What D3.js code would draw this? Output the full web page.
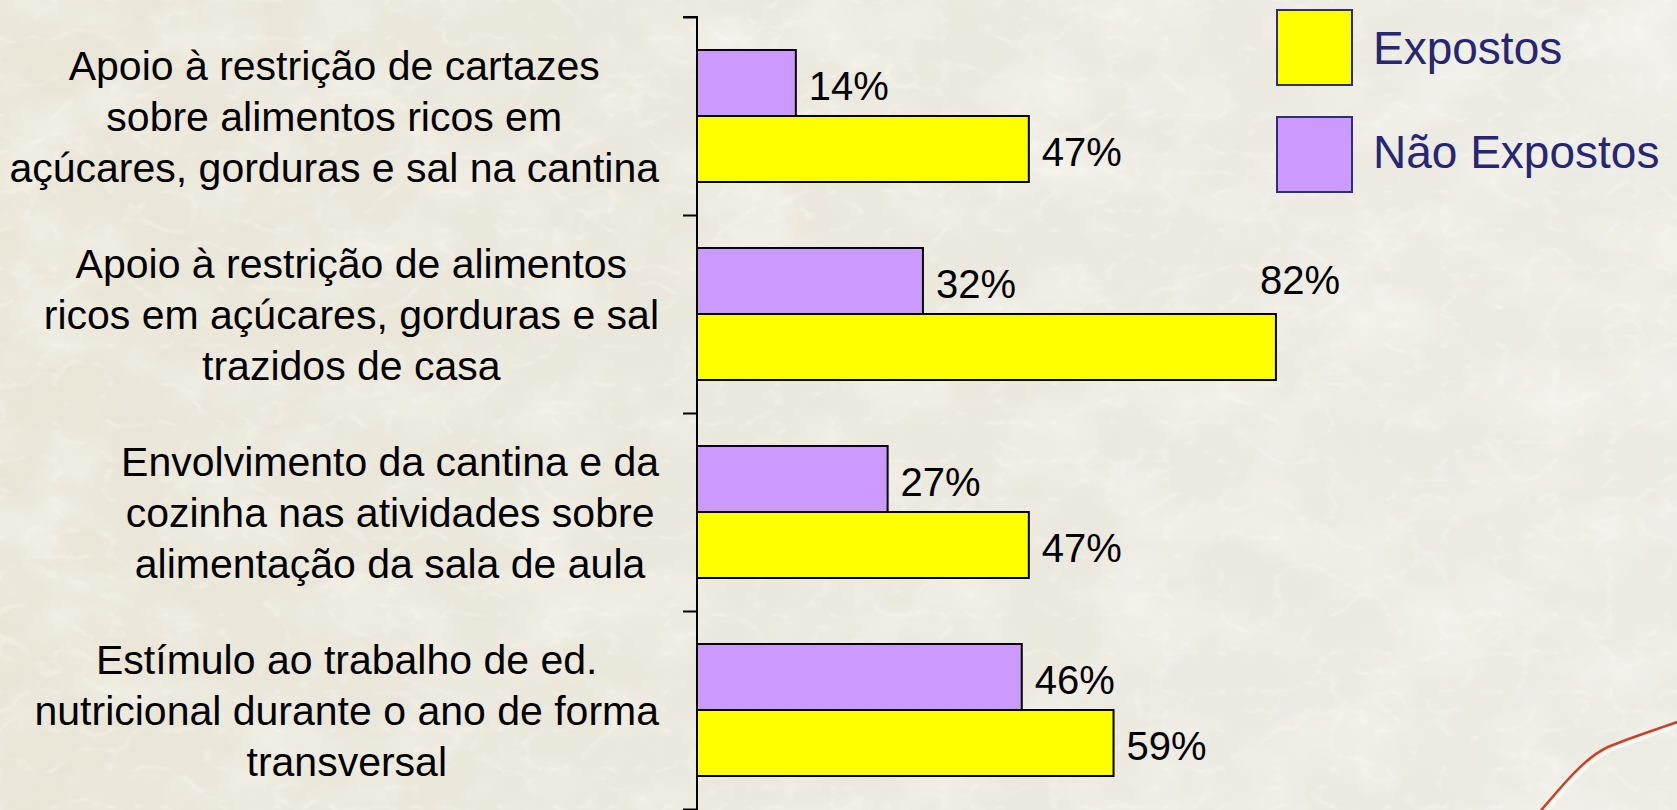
<!DOCTYPE html>
<html>
<head>
<meta charset="utf-8">
<script src="https://cdn.jsdelivr.net/npm/d3@7"></script>
<style>
  html, body { margin: 0; padding: 0; overflow: hidden; background: #e9e6dc; }
  svg { display: block; font-family: "Liberation Sans", Arial, sans-serif; }
</style>
</head>
<body>
<div id="chart"></div>
<script>
// DATA
const categories = [
  "Apoio à restrição de cartazes\nsobre alimentos ricos em\naçúcares, gorduras e sal na cantina",
  "Apoio à restrição de alimentos\nricos em açúcares, gorduras e sal\ntrazidos de casa",
  "Envolvimento da cantina e da\ncozinha nas atividades sobre\nalimentação da sala de aula",
  "Estímulo ao trabalho de ed.\nnutricional durante o ano de forma\ntransversal"
];
const seriesNames = ["Não Expostos", "Expostos"];
const naoExpostos = [14, 32, 27, 46];
const expostos = [47, 82, 47, 59];
const legendOrder = ["Expostos", "Não Expostos"];

const colors = { "Não Expostos": "#cc99ff", "Expostos": "#ffff00" };
const values = { "Não Expostos": naoExpostos, "Expostos": expostos };

const width = 1677;
const height = 810;
const margin = { top: 17, left: 697 };
const plotBottom = 809;
const labelLimit = 1300;

const svg = d3
  .select("#chart")
  .append("svg")
  .attr("width", width)
  .attr("height", height);

// -----------------------------------------------------------------------------
// BACKGROUND (paper texture)
// -----------------------------------------------------------------------------
const defs = svg.append("defs");

const grad = defs.append("linearGradient").attr("id", "paperTone");
grad.append("stop").attr("offset", "0%").attr("stop-color", "#e9e5d7");
grad.append("stop").attr("offset", "55%").attr("stop-color", "#ebe8de");
grad.append("stop").attr("offset", "100%").attr("stop-color", "#ecebe4");

const light = defs.append("filter").attr("id", "paperLight")
  .attr("x", 0).attr("y", 0).attr("width", "100%").attr("height", "100%");
light.append("feTurbulence")
  .attr("type", "fractalNoise")
  .attr("baseFrequency", "0.01 0.014")
  .attr("numOctaves", 4)
  .attr("seed", 7);
light.append("feColorMatrix")
  .attr("type", "matrix")
  .attr("values", "0 0 0 0 1  0 0 0 0 1  0 0 0 0 0.98  1.2 0 0 0 -0.5");

const veins = defs.append("filter").attr("id", "paperVeins")
  .attr("x", 0).attr("y", 0).attr("width", "100%").attr("height", "100%");
veins.append("feTurbulence")
  .attr("type", "turbulence")
  .attr("baseFrequency", "0.018 0.026")
  .attr("numOctaves", 3)
  .attr("seed", 11);
veins.append("feColorMatrix")
  .attr("type", "matrix")
  .attr("values", "0 0 0 0 1  0 0 0 0 1  0 0 0 0 0.97  -2.2 0 0 0 0.4");

const shade = defs.append("filter").attr("id", "paperShade")
  .attr("x", 0).attr("y", 0).attr("width", "100%").attr("height", "100%");
shade.append("feTurbulence")
  .attr("type", "fractalNoise")
  .attr("baseFrequency", "0.004 0.006")
  .attr("numOctaves", 2)
  .attr("seed", 3);
shade.append("feColorMatrix")
  .attr("type", "matrix")
  .attr("values", "0 0 0 0 0.82  0 0 0 0 0.78  0 0 0 0 0.68  0 0.7 0 0 -0.33");

svg.append("rect").attr("width", width).attr("height", height).attr("fill", "url(#paperTone)");
svg.append("rect").attr("width", width).attr("height", height).attr("filter", "url(#paperShade)");
svg.append("rect").attr("width", width).attr("height", height).attr("filter", "url(#paperLight)").attr("opacity", 0.7);
svg.append("rect").attr("width", width).attr("height", height).attr("filter", "url(#paperVeins)").attr("opacity", 0.7);

// red thread, bottom right
const thread = "M1538,814 C1562,786 1584,758 1608,747 C1632,737 1655,730 1680,721";
svg.append("path")
  .attr("d", thread)
  .attr("fill", "none")
  .attr("stroke", "#fbfaf4")
  .attr("stroke-width", 3)
  .attr("transform", "translate(3,3)");
svg.append("path")
  .attr("d", thread)
  .attr("fill", "none")
  .attr("stroke", "#c4452a")
  .attr("stroke-width", 2.5);

// -----------------------------------------------------------------------------
// AXES & SCALES
// -----------------------------------------------------------------------------
const xScale = d3.scaleLinear().domain([0, 100]).range([margin.left, margin.left + 706]);

const yScale = d3
  .scaleBand()
  .domain(d3.range(categories.length))
  .range([margin.top, plotBottom])
  .paddingInner(0);

const band = yScale.bandwidth();
const subScale = d3
  .scaleBand()
  .domain(seriesNames)
  .range([band / 6, (band * 5) / 6]);

const yEdge = d3
  .scaleLinear()
  .domain([0, categories.length])
  .range([margin.top, plotBottom]);

svg
  .append("g")
  .attr("class", "myYaxis")
  .attr("transform", `translate(${margin.left},0)`)
  .call(
    d3.axisLeft(yEdge)
      .tickValues(d3.range(categories.length + 1))
      .tickSize(14)
      .tickFormat("")
  )
  .call(g => g.selectAll("path, line").attr("stroke", "#000").attr("stroke-width", 2))
  .call(g => g.select(".domain").attr("d", `M-14,${margin.top}H0V${height + 5}`));

// -----------------------------------------------------------------------------
// BARS
// -----------------------------------------------------------------------------
const rows = [];
categories.forEach((c, i) => {
  seriesNames.forEach(s => rows.push({ cat: i, series: s, value: values[s][i] }));
});

const plot = svg.append("g").attr("id", "plotArea");

plot
  .selectAll(".bar")
  .data(rows)
  .enter()
  .append("rect")
  .attr("class", "bar")
  .attr("x", xScale(0))
  .attr("y", d => yScale(d.cat) + subScale(d.series))
  .attr("width", d => xScale(d.value) - xScale(0))
  .attr("height", subScale.bandwidth())
  .attr("fill", d => colors[d.series])
  .attr("stroke", "#000")
  .attr("stroke-width", 2);

// value labels
plot
  .selectAll(".value")
  .data(rows)
  .enter()
  .append("text")
  .attr("class", "value")
  .attr("font-size", 40)
  .attr("fill", "#000")
  .text(d => `${d.value}%`)
  .each(function(d) {
    const w = this.getComputedTextLength();
    const top = yScale(d.cat) + subScale(d.series);
    const end = xScale(d.value);
    if (end + 13 + w > labelLimit) {
      // no room on the right: set above the bar end
      d3.select(this).attr("x", end - 16).attr("y", top - 20);
    } else {
      d3.select(this)
        .attr("x", end + 13)
        .attr("y", top + subScale.bandwidth() / 2 + 17);
    }
  });

// -----------------------------------------------------------------------------
// CATEGORY LABELS
// -----------------------------------------------------------------------------
const lineGap = 51;
const capH = 29.4;
const labelRight = 659;

categories.forEach((c, i) => {
  const lines = c.split("\n");
  const center = yScale(i) + band / 2;
  const first = center - ((lines.length - 1) * lineGap + capH) / 2 + capH;
  const g = svg.append("g").attr("class", "catLabel");
  const texts = g
    .selectAll("text")
    .data(lines)
    .enter()
    .append("text")
    .attr("font-size", 41)
    .attr("fill", "#000")
    .attr("text-anchor", "middle")
    .attr("y", (d, j) => first + j * lineGap)
    .text(d => d);
  let maxW = 0;
  texts.each(function() {
    maxW = Math.max(maxW, this.getComputedTextLength());
  });
  const cx = Math.max(maxW / 2, labelRight - maxW / 2);
  texts.attr("x", cx);
});

// -----------------------------------------------------------------------------
// LEGEND
// -----------------------------------------------------------------------------
const legend = svg
  .selectAll(".legend")
  .data(legendOrder)
  .enter()
  .append("g")
  .attr("class", "legend")
  .attr("transform", (d, i) => `translate(1277,${10 + i * 107})`);

legend
  .append("rect")
  .attr("width", 75)
  .attr("height", 75)
  .attr("fill", d => colors[d])
  .attr("stroke", "#2e2e7e")
  .attr("stroke-width", 2);

legend
  .append("text")
  .attr("x", 96)
  .attr("y", (d, i) => 54 - i * 3)
  .attr("font-size", 46)
  .attr("fill", "#262673")
  .text(d => d);
</script>
</body>
</html>
